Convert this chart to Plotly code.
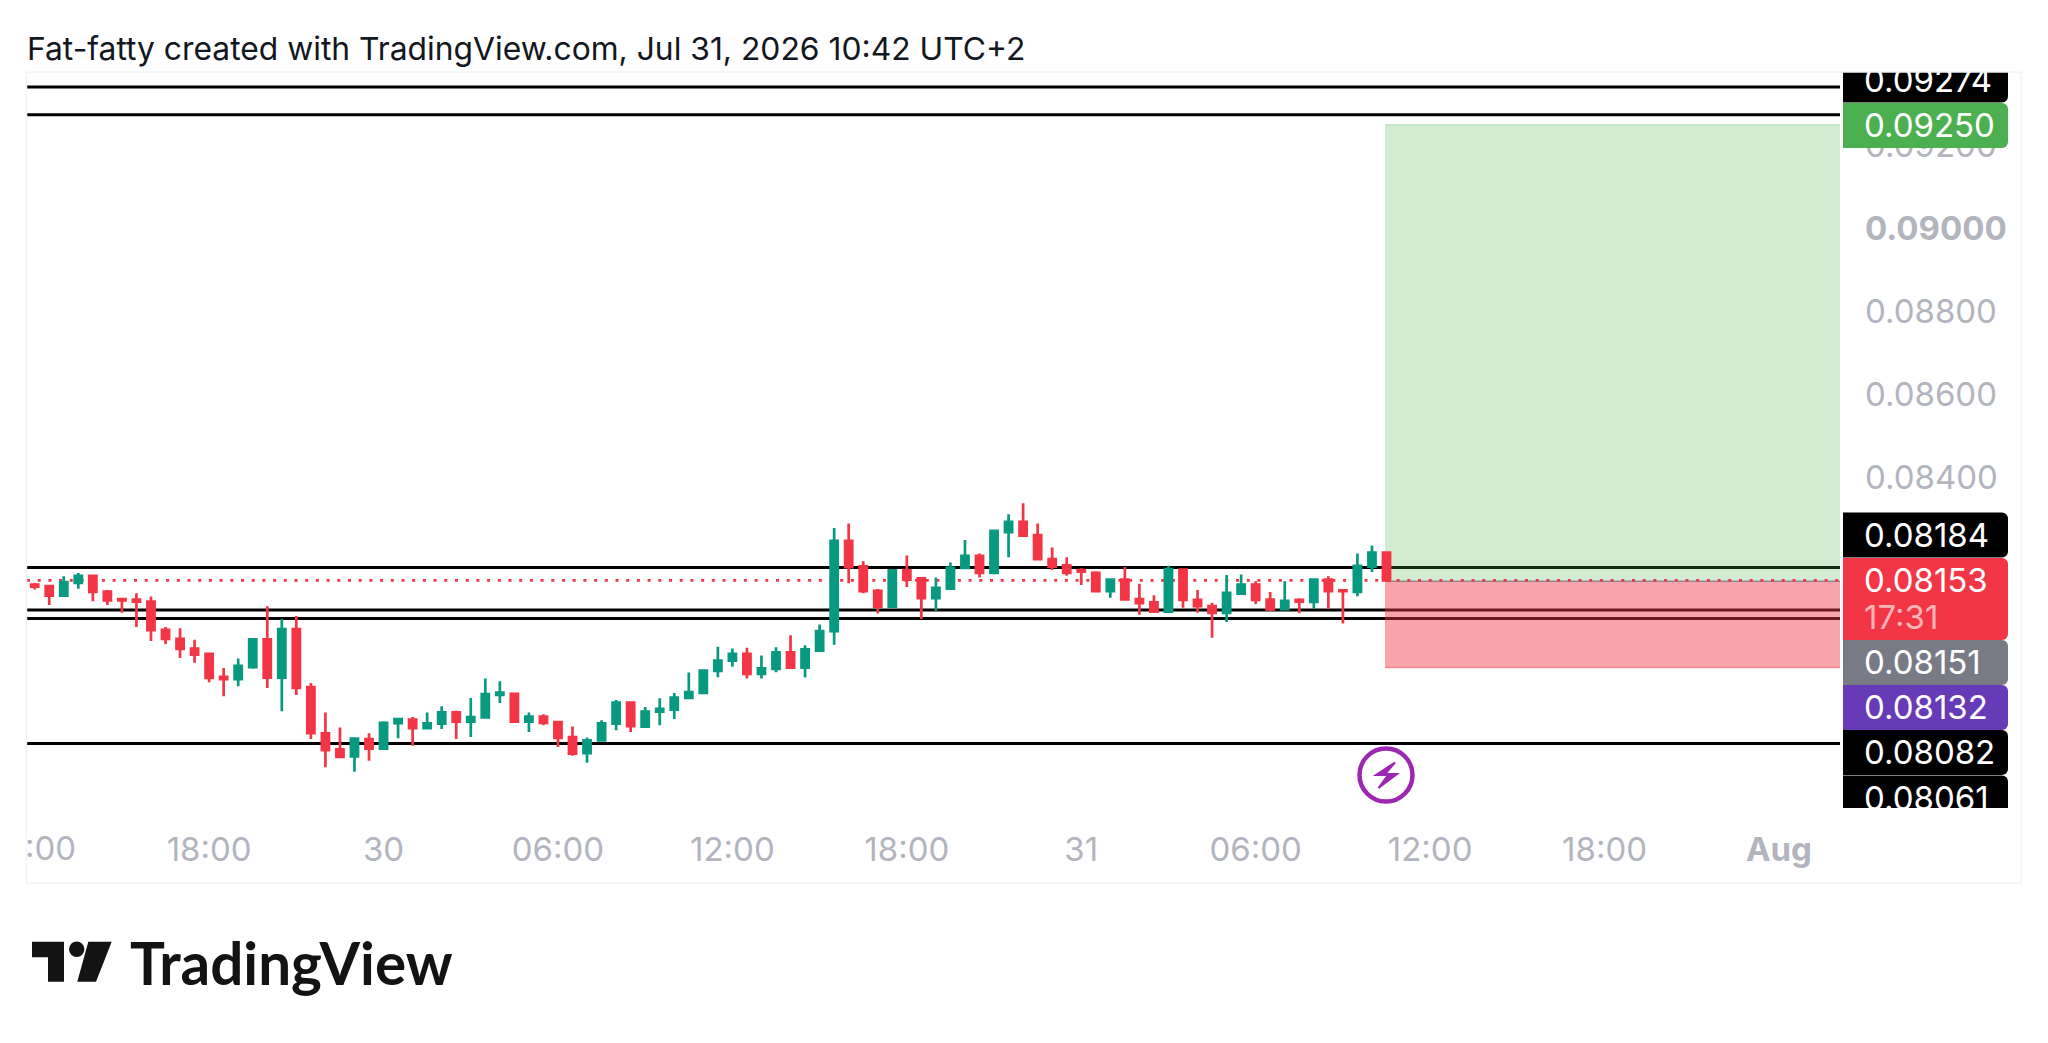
import pandas as pd
import plotly.graph_objects as go

W, H = 2048, 1043

# 30 min candles, Jul 29 12:00 -> Jul 31 10:30
opens = [
    0.08143, 0.08139, 0.08116, 0.08147, 0.08164, 0.08126, 0.08108, 0.08107, 0.08102, 0.08034,
    0.08012, 0.07989, 0.07976, 0.07921, 0.07915, 0.07944, 0.08011, 0.07919, 0.08036, 0.07896,
    0.07785, 0.07746, 0.07729, 0.07771, 0.07748, 0.07809, 0.07818, 0.07797, 0.07808, 0.07835,
    0.07813, 0.07823, 0.07877, 0.07880, 0.07813, 0.07825, 0.07812, 0.07776, 0.07737, 0.07768,
    0.07808, 0.07859, 0.07801, 0.07837, 0.07842, 0.07870, 0.07882, 0.07935, 0.07960, 0.07976,
    0.07928, 0.07940, 0.07980, 0.07943, 0.07984, 0.08031, 0.08248, 0.08187, 0.08128, 0.08090,
    0.08177, 0.08158, 0.08110, 0.08133, 0.08183, 0.08212, 0.08171, 0.08269, 0.08294, 0.08262,
    0.08204, 0.08189, 0.08178, 0.08171, 0.08127, 0.08155, 0.08108, 0.08100, 0.08078, 0.08179,
    0.08106, 0.08091, 0.08075, 0.08121, 0.08143, 0.08107, 0.08084, 0.08106, 0.08101, 0.08155,
    0.08129, 0.08125, 0.08186, 0.08220,
]
highs = [
    0.08147, 0.08141, 0.08163, 0.08171, 0.08164, 0.08130, 0.08110, 0.08122, 0.08114, 0.08041,
    0.08038, 0.08010, 0.07978, 0.07942, 0.07965, 0.08012, 0.08091, 0.08060, 0.08067, 0.07906,
    0.07835, 0.07799, 0.07772, 0.07785, 0.07814, 0.07821, 0.07824, 0.07835, 0.07850, 0.07839,
    0.07870, 0.07917, 0.07910, 0.07881, 0.07835, 0.07831, 0.07813, 0.07801, 0.07775, 0.07816,
    0.07865, 0.07859, 0.07848, 0.07869, 0.07882, 0.07931, 0.07939, 0.07993, 0.07989, 0.07991,
    0.07972, 0.07992, 0.08021, 0.07997, 0.08047, 0.08279, 0.08290, 0.08199, 0.08132, 0.08180,
    0.08213, 0.08158, 0.08160, 0.08196, 0.08250, 0.08218, 0.08275, 0.08312, 0.08339, 0.08290,
    0.08232, 0.08209, 0.08182, 0.08175, 0.08158, 0.08185, 0.08145, 0.08117, 0.08188, 0.08182,
    0.08130, 0.08099, 0.08166, 0.08167, 0.08151, 0.08125, 0.08151, 0.08110, 0.08155, 0.08163,
    0.08130, 0.08218, 0.08237, 0.08220,
]
lows = [
    0.08131, 0.08094, 0.08116, 0.08133, 0.08103, 0.08094, 0.08075, 0.08041, 0.08007, 0.08000,
    0.07966, 0.07955, 0.07908, 0.07874, 0.07898, 0.07940, 0.07894, 0.07838, 0.07877, 0.07771,
    0.07703, 0.07727, 0.07692, 0.07719, 0.07748, 0.07773, 0.07755, 0.07797, 0.07795, 0.07771,
    0.07776, 0.07823, 0.07858, 0.07813, 0.07788, 0.07804, 0.07752, 0.07731, 0.07714, 0.07768,
    0.07792, 0.07788, 0.07800, 0.07804, 0.07819, 0.07870, 0.07879, 0.07920, 0.07945, 0.07917,
    0.07917, 0.07932, 0.07943, 0.07919, 0.07981, 0.07998, 0.08146, 0.08122, 0.08073, 0.08087,
    0.08137, 0.08060, 0.08080, 0.08133, 0.08183, 0.08160, 0.08171, 0.08209, 0.08261, 0.08204,
    0.08178, 0.08164, 0.08142, 0.08125, 0.08111, 0.08106, 0.08070, 0.08078, 0.08078, 0.08087,
    0.08075, 0.08015, 0.08053, 0.08120, 0.08096, 0.08079, 0.08084, 0.08074, 0.08085, 0.08084,
    0.08049, 0.08115, 0.08173, 0.08150,
]
closes = [
    0.08138, 0.08116, 0.08149, 0.08164, 0.08125, 0.08105, 0.08105, 0.08102, 0.08033, 0.08012,
    0.07988, 0.07974, 0.07918, 0.07915, 0.07947, 0.08011, 0.07919, 0.08036, 0.07894, 0.07785,
    0.07744, 0.07728, 0.07772, 0.07748, 0.07810, 0.07819, 0.07797, 0.07809, 0.07835, 0.07813,
    0.07824, 0.07879, 0.07883, 0.07813, 0.07825, 0.07810, 0.07774, 0.07736, 0.07768, 0.07809,
    0.07859, 0.07802, 0.07837, 0.07844, 0.07871, 0.07884, 0.07936, 0.07960, 0.07976, 0.07928,
    0.07941, 0.07980, 0.07943, 0.07987, 0.08031, 0.08248, 0.08185, 0.08127, 0.08090, 0.08177,
    0.08155, 0.08110, 0.08135, 0.08183, 0.08212, 0.08171, 0.08272, 0.08294, 0.08261, 0.08204,
    0.08186, 0.08171, 0.08174, 0.08127, 0.08155, 0.08107, 0.08098, 0.08078, 0.08180, 0.08106,
    0.08091, 0.08075, 0.08123, 0.08143, 0.08106, 0.08083, 0.08104, 0.08102, 0.08155, 0.08127,
    0.08127, 0.08188, 0.08220, 0.08153,
]

# horizontal levels drawn on the chart
levels = [0.09341, 0.09274, 0.08184, 0.08082, 0.08061, 0.07760]
last_price = 0.08153
entry = 0.08151
target = 0.09250
stop = 0.07943

price_ticks = [0.092, 0.090, 0.088, 0.086, 0.084]
price_tick_text = ["0.09200", "<b>0.09000</b>", "0.08800", "0.08600", "0.08400"]

time_ticks = [
    "2026-07-29 18:00", "2026-07-30 00:00", "2026-07-30 06:00",
    "2026-07-30 12:00", "2026-07-30 18:00", "2026-07-31 00:00", "2026-07-31 06:00",
    "2026-07-31 12:00", "2026-07-31 18:00", "2026-08-01 00:00",
]
time_tick_text = ["18:00", "30", "06:00", "12:00", "18:00", "31", "06:00", "12:00", "18:00", "<b>Aug</b>"]

tag_labels = ["0.09274", "0.09250", "0.08184", "0.08153", "0.08151", "0.08132", "0.08082", "0.08061"]
tag_colors = ["#000000", "#4caf50", "#000000", "#f23645", "#787b86", "#673ab7", "#000000", "#000000"]
tag_heights = [45, 45, 45, 82, 45, 45, 45, 45]
tag_centers = [80, 125.5, 535, 599, 662.5, 707.5, 752.5, 798]
tag_text_y = [84, 129, 539, 584, 665.5, 710.5, 755.5, 802]
countdown = "17:31"

UP, DOWN = "#089981", "#f23645"
FONT = "Inter"
TICK_COLOR = "#b2b5be"


def px(x):
    return x / W


def py(y):
    return 1 - y / H


def paper_path(points):
    return "M" + " L".join(f"{px(x)},{py(y)}" for x, y in points) + " Z"


times = pd.date_range("2026-07-29 12:00", periods=len(opens), freq="30min")
bar = pd.Timedelta(minutes=30)
x_range = [times[0] - 0.53 * bar, times[0] + 124.2 * bar]

fig = go.Figure()
fig.add_trace(go.Candlestick(
    x=times, open=opens, high=highs, low=lows, close=closes,
    increasing=dict(line=dict(color=UP, width=2.7), fillcolor=UP),
    decreasing=dict(line=dict(color=DOWN, width=2.7), fillcolor=DOWN),
    whiskerwidth=0, showlegend=False, xaxis="x", yaxis="y",
))

# price tags on top of the right scale, in their own pixel sized subplot
fig.add_trace(go.Bar(
    y=tag_centers, x=[178] * len(tag_centers), base=[1830] * len(tag_centers), width=tag_heights,
    orientation="h", marker=dict(color=tag_colors, line=dict(width=0), cornerradius=6),
    showlegend=False, xaxis="x2", yaxis="y2",
))
fig.add_trace(go.Scatter(
    x=[1864] * len(tag_labels) + [1864], y=tag_text_y + [621],
    text=tag_labels + [countdown], mode="text", textposition="middle right",
    textfont=dict(family=FONT, size=33, color=["#ffffff"] * len(tag_labels) + ["#fbb4ba"]),
    showlegend=False, xaxis="x2", yaxis="y2",
))

# levels, then the long position boxes over them
for level in levels:
    fig.add_shape(type="line", xref="x domain", yref="y", x0=0, x1=1, y0=level, y1=level,
                  line=dict(color="#000000", width=3), layer="below")
fig.add_shape(type="rect", xref="paper", yref="y", x0=px(1385), x1=px(1840), y0=entry, y1=target,
              fillcolor="rgba(76,175,80,0.25)", line=dict(width=0), layer="below")
fig.add_shape(type="rect", xref="paper", yref="y", x0=px(1385), x1=px(1840), y0=stop, y1=entry,
              fillcolor="rgba(242,54,69,0.45)", line=dict(width=0), layer="below")
fig.add_shape(type="line", xref="paper", yref="y", x0=px(1385), x1=px(1840), y0=target, y1=target,
              line=dict(color="rgba(76,175,80,0.25)", width=1.5), layer="below")
fig.add_shape(type="line", xref="paper", yref="y", x0=px(1385), x1=px(1840), y0=stop, y1=stop,
              line=dict(color="rgba(242,54,69,0.45)", width=1.5), layer="below")
fig.add_shape(type="line", xref="paper", yref="y", x0=px(1385), x1=px(1840), y0=entry, y1=entry,
              line=dict(color="#8a8d96", width=1.5), layer="below")
fig.add_shape(type="line", xref="x domain", yref="y", x0=0, x1=1, y0=last_price, y1=last_price,
              line=dict(color=DOWN, width=2.7, dash="3px,7.7px"), layer="below")

# pane border
fig.add_shape(type="rect", xref="paper", yref="paper", x0=px(26.5), x1=px(2021), y0=py(883), y1=py(72),
              line=dict(color="#f0f3fa", width=1.5), layer="above")

# lightning mark
fig.add_shape(type="circle", xref="paper", yref="paper", x0=px(1359.5), x1=px(1412.5), y0=py(801.5), y1=py(748.5),
              line=dict(color="#9c27b0", width=4.5))
fig.add_shape(type="path", xref="paper", yref="paper",
              path=paper_path([(1395, 762.5), (1376, 775), (1388, 775), (1378.5, 788), (1397, 774), (1385, 774)]),
              fillcolor="#9c27b0", line=dict(color="#9c27b0", width=2))

# TradingView logo
LOGO = "#131313"
fig.add_shape(type="path", xref="paper", yref="paper", line=dict(width=0), fillcolor=LOGO,
              path=paper_path([(32, 941.7), (64, 941.7), (64, 981.7), (48, 981.7), (48, 957.3), (32, 957.3)]))
fig.add_shape(type="circle", xref="paper", yref="paper", line=dict(width=0), fillcolor=LOGO,
              x0=px(69), x1=px(84.4), y0=py(957), y1=py(941.6))
fig.add_shape(type="path", xref="paper", yref="paper", line=dict(width=0), fillcolor=LOGO,
              path=paper_path([(88.3, 941.7), (111.7, 941.7), (96, 981.7), (77.3, 981.7)]))

fig.add_annotation(xref="paper", yref="paper", x=px(25), y=py(48), xanchor="left", yanchor="middle",
                   text="Fat-fatty created with TradingView.com, Jul 31, 2026 10:42 UTC+2", showarrow=False,
                   font=dict(family=FONT, size=31.8, color="#131722"))
fig.add_annotation(xref="paper", yref="paper", x=px(128), y=py(962), xanchor="left", yanchor="middle",
                   text="<b>TradingView</b>", showarrow=False,
                   font=dict(family="Lato", size=58.4, color=LOGO))
# the 12:00 label runs off the pane in the original, only its end shows
fig.add_annotation(xref="paper", yref="paper", x=px(78), y=py(848), xanchor="right", yanchor="middle",
                   text=":00", showarrow=False, font=dict(family=FONT, size=33, color=TICK_COLOR))

fig.update_layout(
    width=W, height=H, margin=dict(l=0, r=0, t=0, b=0),
    paper_bgcolor="#ffffff", plot_bgcolor="rgba(0,0,0,0)", barmode="overlay",
    xaxis=dict(domain=[px(27), px(1840)], range=x_range, rangeslider=dict(visible=False),
               tickmode="array", tickvals=time_ticks, ticktext=time_tick_text, tickangle=0,
               showgrid=False, zeroline=False, showline=False, ticks="", ticklabelstandoff=19,
               tickfont=dict(family=FONT, size=33, color=TICK_COLOR), anchor="y"),
    yaxis=dict(domain=[py(808), py(72)], range=[0.07605, 0.09377], side="right",
               tickmode="array", tickvals=price_ticks, ticktext=price_tick_text,
               showgrid=False, zeroline=False, showline=False, ticks="", ticklabelstandoff=24,
               layer="below traces", tickfont=dict(family=FONT, size=33, color=TICK_COLOR), anchor="x"),
    xaxis2=dict(domain=[px(1843), px(2021)], range=[1843, 2021], visible=False, anchor="y2"),
    yaxis2=dict(domain=[py(808), py(72)], range=[808, 72], visible=False, anchor="x2"),
)

fig.write_html("out.html", config=dict(displayModeBar=False),
               post_script="document.body.style.margin='0'")
